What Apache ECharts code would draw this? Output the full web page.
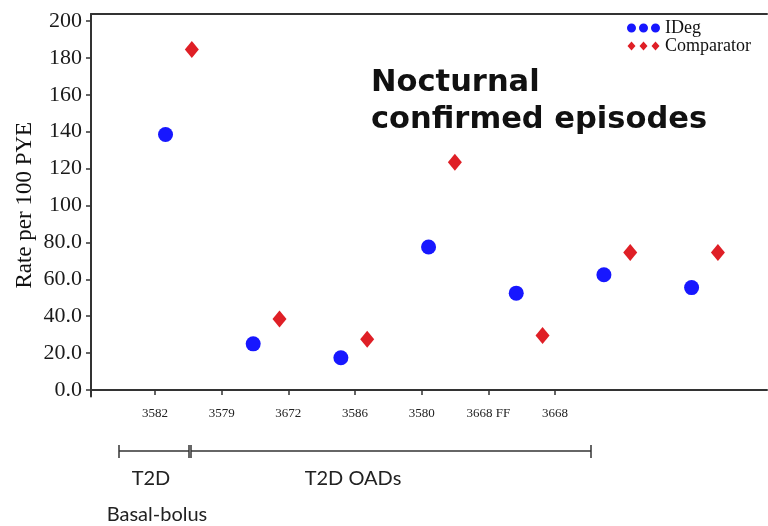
<!DOCTYPE html>
<html>
<head>
<meta charset="utf-8">
<script src="https://cdn.jsdelivr.net/npm/echarts@6/dist/echarts.min.js"></script>
<style>
  html, body { margin: 0; padding: 0; background: #fff; }
  #main { width: 768px; height: 526px; }
</style>
</head>
<body>
<div id="main"></div>
<script>
// trial ids shown under the x axis
var categories = ['3582', '3579', '3672', '3586', '3580', '3668 FF', '3668'];
// rate per 100 PYE
var idegRate = [138.5, 25, 17.5, 77.5, 52.5, 62.5, 55.5];
var comparatorRate = [184.5, 38.5, 27.5, 123.5, 29.5, 74.5, 74.5];
var yTicks = [0, 20, 40, 60, 80, 100, 120, 140, 160, 180, 200];

var tickPos = categories.map(function (c, i) { return i + 1; });
var dodge = 0.15;

var chart = echarts.init(document.getElementById('main'));

var serif = '"Liberation Serif", "Times New Roman", serif';
var axisColor = '#333';

var option = {
  animation: false,
  backgroundColor: '#fff',
  title: {
    text: 'Nocturnal\nconfirmed episodes',
    left: 371,
    top: 65,
    padding: 0,
    textStyle: {
      fontFamily: '"DejaVu Sans", Verdana, sans-serif',
      fontWeight: 'bold',
      fontSize: 30.5,
      lineHeight: 37,
      color: '#111'
    }
  },
  legend: {
    orient: 'vertical',
    left: 627,
    top: 19,
    padding: 0,
    itemGap: 0,
    itemWidth: 33,
    itemHeight: 9,
    textStyle: { fontFamily: serif, fontSize: 18, color: '#111', lineHeight: 16 },
    data: [
      { name: 'IDeg', icon: 'path://M4.5,0A4.5,4.5,0,1,1,4.5,9A4.5,4.5,0,1,1,4.5,0ZM16.5,0A4.5,4.5,0,1,1,16.5,9A4.5,4.5,0,1,1,16.5,0ZM28.5,0A4.5,4.5,0,1,1,28.5,9A4.5,4.5,0,1,1,28.5,0Z' },
      { name: 'Comparator', icon: 'path://M4.5,0L8.5,4.5L4.5,9L0.5,4.5ZM16.5,0L20.5,4.5L16.5,9L12.5,4.5ZM28.5,0L32.5,4.5L28.5,9L24.5,4.5Z' }
    ]
  },
  grid: { left: 91, right: 1, top: 14, bottom: 129.5 },
  xAxis: [
    {
      // visible axis carrying the trial labels
      type: 'value',
      position: 'bottom',
      min: 0.04,
      max: 10.18,
      axisLine: { lineStyle: { color: axisColor, width: 2 } },
      axisTick: { show: true, length: 5, customValues: tickPos, lineStyle: { color: axisColor, width: 1.5 } },
      axisLabel: {
        customValues: tickPos,
        margin: 11,
        fontFamily: serif,
        fontSize: 13,
        color: '#222',
        formatter: function (v) { return categories[Math.round(v) - 1]; }
      },
      splitLine: { show: false }
    },
    {
      // hidden axis that places the point pairs
      type: 'value',
      position: 'bottom',
      show: false,
      min: 0,
      max: 7.71
    },
    {
      // top frame line
      type: 'value',
      position: 'top',
      min: 0,
      max: 1,
      axisLine: { show: true, lineStyle: { color: axisColor, width: 2 } },
      axisTick: { show: false },
      axisLabel: { show: false },
      splitLine: { show: false }
    }
  ],
  yAxis: {
    type: 'value',
    min: -3.53,
    max: 203.8,
    name: 'Rate per 100 PYE',
    nameLocation: 'middle',
    nameGap: 55,
    nameMoveOverlap: false,
    nameTextStyle: { fontFamily: serif, fontSize: 23, color: '#111' },
    axisLine: { show: true, lineStyle: { color: axisColor, width: 2 } },
    axisTick: { show: true, length: 5, customValues: yTicks, lineStyle: { color: axisColor, width: 1.5 } },
    axisLabel: {
      customValues: yTicks,
      margin: 9,
      fontFamily: serif,
      fontSize: 22,
      color: '#1a1a1a',
      formatter: function (v) { return v >= 100 ? String(v) : v.toFixed(1); }
    },
    splitLine: { show: false }
  },
  series: [
    {
      name: 'IDeg',
      type: 'scatter',
      xAxisIndex: 1,
      symbol: 'circle',
      symbolSize: 15,
      itemStyle: { color: '#1717ff', opacity: 1 },
      data: idegRate.map(function (v, i) { return [i + 1 - dodge, v]; })
    },
    {
      name: 'Comparator',
      type: 'scatter',
      xAxisIndex: 1,
      symbol: 'diamond',
      symbolSize: [14, 17],
      itemStyle: { color: '#df1f26', opacity: 1 },
      data: comparatorRate.map(function (v, i) { return [i + 1 + dodge, v]; })
    }
  ],
  graphic: [
    // population brackets under the axis
    { type: 'line', shape: { x1: 119, y1: 451, x2: 189, y2: 451 }, style: { stroke: axisColor, lineWidth: 1.5 } },
    { type: 'line', shape: { x1: 119, y1: 445, x2: 119, y2: 458 }, style: { stroke: axisColor, lineWidth: 1.5 } },
    { type: 'line', shape: { x1: 189, y1: 445, x2: 189, y2: 458 }, style: { stroke: axisColor, lineWidth: 1.5 } },
    { type: 'line', shape: { x1: 191, y1: 445, x2: 191, y2: 458 }, style: { stroke: axisColor, lineWidth: 1.5 } },
    { type: 'line', shape: { x1: 191, y1: 451, x2: 591, y2: 451 }, style: { stroke: axisColor, lineWidth: 1.5 } },
    { type: 'line', shape: { x1: 591, y1: 445, x2: 591, y2: 458 }, style: { stroke: axisColor, lineWidth: 1.5 } },
    { type: 'text', x: 151, y: 479, style: { text: 'T2D', font: '20px Lato, "Noto Sans", sans-serif', fill: '#222', align: 'center', verticalAlign: 'middle' } },
    { type: 'text', x: 157, y: 515, style: { text: 'Basal-bolus', font: '20px Lato, "Noto Sans", sans-serif', fill: '#222', align: 'center', verticalAlign: 'middle' } },
    { type: 'text', x: 353, y: 479, style: { text: 'T2D OADs', font: '20px Lato, "Noto Sans", sans-serif', fill: '#222', align: 'center', verticalAlign: 'middle' } }
  ]
};

chart.setOption(option);
</script>
</body>
</html>
